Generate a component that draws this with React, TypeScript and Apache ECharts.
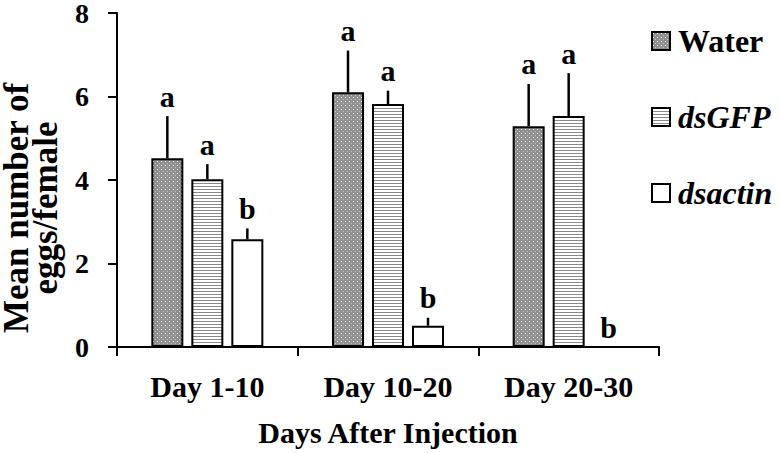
import React, { useEffect, useRef } from "react";
import * as echarts from "echarts";

const categories = ["Day 1-10", "Day 10-20", "Day 20-30"];
const seriesNames = ["Water", "dsGFP", "dsactin"];
const waterMean = [4.52, 6.1, 5.29];
const waterErr = [1.01, 1.0, 1.01];
const dsGFPMean = [4.02, 5.82, 5.53];
const dsGFPErr = [0.36, 0.32, 1.03];
const dsactinMean = [2.58, 0.51, 0];
const dsactinErr = [0.26, 0.19, 0];
const waterLetters = ["a", "a", "a"];
const dsGFPLetters = ["a", "a", "a"];
const dsactinLetters = ["b", "b", "b"];
const yTicks = [0, 2, 4, 6, 8];

const FONT = "'Liberation Serif', 'Times New Roman', serif";
const BAR_W = 32;
const BAR_GAP = 8;

function makeDots(): HTMLCanvasElement {
  const c = document.createElement("canvas");
  c.width = 4;
  c.height = 4;
  const ctx = c.getContext("2d")!;
  ctx.fillStyle = "#8e8e8e";
  ctx.fillRect(0, 0, 4, 4);
  ctx.fillStyle = "#ffffff";
  ctx.fillRect(1, 1, 1, 1);
  ctx.fillStyle = "#c8c8c8";
  ctx.fillRect(3, 3, 1, 1);
  return c;
}

function makeStripes(): HTMLCanvasElement {
  const c = document.createElement("canvas");
  c.width = 4;
  c.height = 3;
  const ctx = c.getContext("2d")!;
  ctx.fillStyle = "#ffffff";
  ctx.fillRect(0, 0, 4, 3);
  ctx.fillStyle = "#8a8a8a";
  ctx.fillRect(0, 0, 4, 1);
  return c;
}

export default function App() {
  const ref = useRef<HTMLDivElement>(null);

  useEffect(() => {
    if (!ref.current) return;
    document.body.style.margin = "0";
    const chart = echarts.init(ref.current, undefined, { renderer: "svg" });

    const means = [waterMean, dsGFPMean, dsactinMean];
    const errs = [waterErr, dsGFPErr, dsactinErr];
    const letters = [waterLetters, dsGFPLetters, dsactinLetters];
    const errData: number[][] = [];
    const errLetters: string[] = [];
    for (let s = 0; s < 3; s++) {
      for (let c = 0; c < categories.length; c++) {
        errData.push([c, s, means[s][c], errs[s][c]]);
        errLetters.push(letters[s][c]);
      }
    }

    const fills: any[] = [
      { image: makeDots(), repeat: "repeat" },
      { image: makeStripes(), repeat: "repeat" },
      "#ffffff",
    ];

    const barSeries = seriesNames.map((name, i) => ({
      name,
      type: "bar",
      data: means[i],
      barWidth: BAR_W,
      barGap: (BAR_GAP / BAR_W) * 100 + "%",
      itemStyle: { color: fills[i], borderColor: "#000", borderWidth: 2 },
      emphasis: { disabled: true },
    }));

    chart.setOption({
      animation: false,
      grid: {
        left: 117,
        right: 121,
        top: 13,
        bottom: 106,
        containLabel: false,
        outerBoundsMode: "none",
      },
      legend: {
        data: seriesNames,
        orient: "vertical",
        left: 646,
        top: 20,
        itemWidth: 18,
        itemHeight: 18,
        itemGap: 44,
        selectedMode: false,
        icon: "rect",
        formatter: (n: string) => (n === "Water" ? "{b|" + n + "}" : "{i|" + n + "}"),
        textStyle: {
          padding: [0, 0, 0, 3],
          lineHeight: 32,
          rich: {
            b: { fontFamily: FONT, fontWeight: "bold", fontSize: 32, color: "#000", lineHeight: 32 },
            i: { fontFamily: FONT, fontWeight: "bold", fontStyle: "italic", fontSize: 32, color: "#000", lineHeight: 32 },
          },
        },
      },
      xAxis: {
        type: "category",
        data: categories,
        name: "Days After Injection",
        nameLocation: "middle",
        nameGap: 70,
        nameMoveOverlap: false,
        nameTextStyle: { fontFamily: FONT, fontWeight: "bold", fontSize: 30, color: "#000" },
        axisLine: { lineStyle: { color: "#000", width: 2 } },
        axisTick: { show: true, length: 9, lineStyle: { color: "#000", width: 2 } },
        axisLabel: {
          interval: 0,
          hideOverlap: false,
          margin: 24,
          fontFamily: FONT,
          fontWeight: "bold",
          fontSize: 30,
          color: "#000",
        },
      },
      yAxis: {
        type: "value",
        min: 0,
        max: 8,
        interval: 2,
        name: "Mean number of\neggs/female",
        nameLocation: "middle",
        nameRotate: 90,
        nameGap: 57,
        nameMoveOverlap: false,
        nameTextStyle: {
          fontFamily: FONT,
          fontWeight: "bold",
          fontSize: 35,
          color: "#000",
          lineHeight: 29,
          padding: [0, 56, 0, 0],
        },
        splitLine: { show: false },
        axisLine: { show: true, lineStyle: { color: "#000", width: 2 } },
        axisTick: { show: true, length: 9, lineStyle: { color: "#000", width: 2 } },
        axisLabel: {
          margin: 28,
          fontFamily: FONT,
          fontWeight: "bold",
          fontSize: 28,
          lineHeight: 22,
          color: "#000",
          formatter: (v: number) => (yTicks.indexOf(v) >= 0 ? String(v) : ""),
        },
      },
      series: [
        ...barSeries,
        {
          type: "custom",
          name: "errors",
          z: 5,
          data: errData,
          renderItem: (params: any, api: any) => {
            const cat = api.value(0);
            const s = api.value(1);
            const mean = api.value(2);
            const err = api.value(3);
            const base = api.coord([cat, mean]);
            const top = api.coord([cat, mean + err]);
            const x = base[0] + (s - 1) * (BAR_W + BAR_GAP);
            const children: any[] = [];
            if (err > 0) {
              children.push({
                type: "line",
                shape: { x1: x, y1: base[1], x2: x, y2: top[1] },
                style: { stroke: "#000", lineWidth: 2.5 },
              });
            }
            children.push({
              type: "text",
              x,
              y: top[1] - 5,
              style: {
                text: errLetters[params.dataIndex],
                fontFamily: FONT,
                fontWeight: "bold",
                fontSize: 30,
                fill: "#000",
                align: "center",
                verticalAlign: "bottom",
              },
            });
            return { type: "group", children };
          },
        },
      ],
    });

    return () => chart.dispose();
  }, []);

  return <div ref={ref} style={{ width: 780, height: 453 }} />;
}
